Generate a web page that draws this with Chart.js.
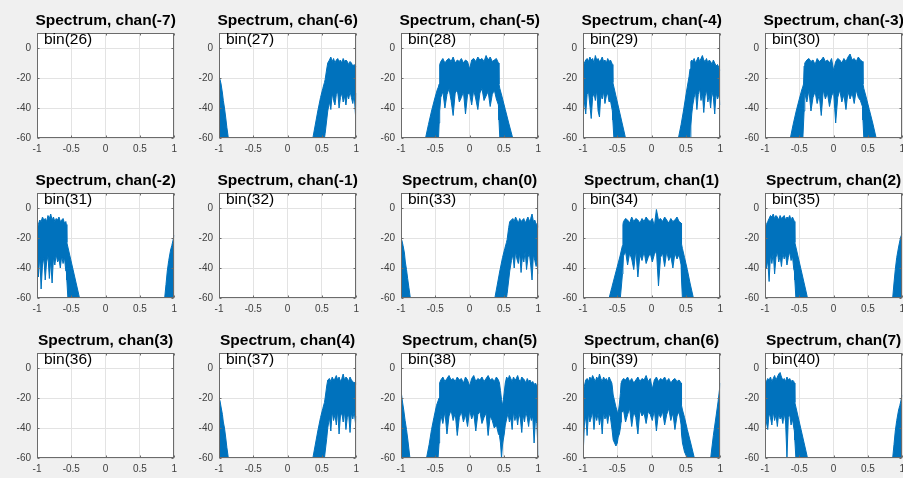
<!DOCTYPE html>
<html>
<head>
<meta charset="utf-8">
<script src="https://cdn.jsdelivr.net/npm/chart.js@4/dist/chart.umd.min.js"></script>
<style>
  html, body { margin: 0; padding: 0; background: #f0f0f0; overflow: hidden; width: 903px; height: 478px; }
  .cell { position: absolute; width: 182px; height: 160px; }
  .cell canvas { display: block; }
</style>
</head>
<body>
<div id="grid"></div>
<script>
// Channel / bin labels of the 3x5 grid of spectra
const channels = [-7, -6, -5, -4, -3, -2, -1, 0, 1, 2, 3, 4, 5, 6, 7];
const bins = [26, 27, 28, 29, 30, 31, 32, 33, 34, 35, 36, 37, 38, 39, 40];

// Axis ticks (normalised frequency, dB)
const xTicks = [-1, -0.5, 0, 0.5, 1];
const yTicks = [-60, -40, -20, 0];

// Each spectrum: frequency points, upper envelope (dB), lower envelope (dB).
// Values below -60 dB lie under the visible floor.

// Left edge skirt + right-hand band
const xEdgeRight = [-1, -0.985, -0.97, -0.95, -0.937, -0.92, -0.903, -0.885, -0.864, -0.85,
  0.35, 0.368, 0.40, 0.44, 0.48, 0.513, 0.537, 0.547, 0.57, 0.585,
  0.61, 0.63, 0.65, 0.67, 0.69, 0.71, 0.73, 0.75, 0.77, 0.79,
  0.81, 0.83, 0.85, 0.87, 0.89, 0.91, 0.93, 0.95, 0.97, 0.99, 1];

const hiChanM6 = [-19, -21, -24, -30, -35, -40, -46, -53, -60, -66,
  -75, -60, -52, -42, -33, -27, -23, -21, -14, -10,
  -8, -6, -9, -7, -10, -8, -7, -9, -8, -10,
  -7, -9, -8, -9, -11, -9, -10, -12, -11, -13, -12];
const loChanM6 = [-75, -75, -75, -75, -75, -75, -75, -75, -75, -75,
  -75, -75, -75, -75, -75, -75, -60, -57, -48, -42,
  -36, -41, -30, -35, -38, -31, -29, -40, -33, -30,
  -36, -32, -38, -31, -34, -29, -33, -37, -31, -45, -30];

const hiChan0 = [-20, -22, -25, -30, -36, -41, -47, -53, -60, -66,
  -75, -60, -52, -42, -33, -27, -23, -21, -13, -9,
  -8, -7, -9, -6, -8, -10, -7, -9, -8, -7,
  -10, -8, -6, -9, -7, -4, -9, -8, -11, -10, -13];
const loChan0 = [-75, -75, -75, -75, -75, -75, -75, -75, -75, -75,
  -75, -75, -75, -75, -75, -75, -60, -57, -48, -42,
  -35, -31, -40, -29, -34, -37, -30, -43, -32, -36,
  -29, -41, -33, -30, -38, -48, -31, -35, -39, -32, -44];

const hiChan4 = [-20, -22, -26, -31, -36, -40, -46, -53, -60, -66,
  -75, -60, -52, -42, -33, -27, -23, -20, -12, -8,
  -7, -9, -6, -8, -7, -5, -8, -6, -9, -7,
  -4, -8, -6, -7, -9, -6, -8, -9, -10, -9, -11];
const loChan4 = [-75, -75, -75, -75, -75, -75, -75, -75, -75, -75,
  -75, -75, -75, -75, -75, -75, -60, -56, -47, -40,
  -33, -42, -29, -35, -31, -38, -28, -44, -32, -30,
  -36, -29, -41, -33, -31, -43, -30, -34, -29, -37, -32];

// Left-hand band + right edge skirt
const xLeftBand = [-1, -0.98, -0.96, -0.94, -0.92, -0.90, -0.88, -0.86, -0.84, -0.82,
  -0.80, -0.78, -0.76, -0.74, -0.72, -0.70, -0.68, -0.66, -0.64, -0.62,
  -0.60, -0.58,
  -0.572, -0.565, -0.55, -0.52, -0.48, -0.44, -0.40, -0.381, -0.36,
  0.84, 0.861, 0.88, 0.899, 0.92, 0.947, 0.965, 0.98, 1];

const hiChanM2 = [-15, -11, -8, -9, -6, -8, -7, -9, -5, -7, -4, -8, -6, -9, -7, -8, -6, -9, -8, -7, -10, -9,
  -11, -23, -26, -32, -40, -48, -56, -60, -64,
  -75, -60, -51, -42, -35, -28, -25, -22, -18];
const loChanM2 = [-34, -46, -32, -54, -38, -33, -48, -36, -32, -47, -35, -50, -33, -38, -31, -36, -34, -40, -32, -37, -33, -42,
  -42, -48, -60, -75, -75, -75, -75, -75, -75,
  -75, -75, -75, -75, -75, -75, -75, -75, -75];

const hiChan2 = [-14, -11, -9, -7, -5, -6, -4, -7, -5, -6, -8, -5, -7, -6, -5, -8, -6, -7, -5, -8, -6, -8,
  -9, -23, -26, -32, -40, -48, -56, -60, -64,
  -75, -60, -50, -41, -33, -26, -22, -19, -17];
const loChan2 = [-33, -40, -35, -49, -31, -37, -30, -44, -33, -29, -36, -32, -39, -30, -34, -31, -38, -33, -29, -35, -32, -41,
  -42, -48, -60, -75, -75, -75, -75, -75, -75,
  -75, -75, -75, -75, -75, -75, -75, -75, -75];

const hiChan7 = [-8, -9, -7, -8, -6, -9, -7, -5, -8, -6, -4, -3, -6, -8, -7, -9, -6, -8, -7, -9, -8, -9,
  -10, -23, -26, -32, -40, -48, -56, -60, -64,
  -75, -60, -51, -42, -35, -28, -25, -22, -18];
const loChan7 = [-28, -36, -41, -30, -33, -38, -29, -35, -31, -39, -30, -34, -32, -37, -30, -36, -60, -33, -31, -38, -34, -40,
  -42, -48, -60, -75, -75, -75, -75, -75, -75,
  -75, -75, -75, -75, -75, -75, -75, -75, -75];

// Bands at both sides
const xChanM4 = [-1, -0.98, -0.96, -0.94, -0.92, -0.90, -0.88, -0.86, -0.84, -0.82,
  -0.80, -0.78, -0.76, -0.74, -0.72, -0.70, -0.68, -0.66, -0.64, -0.62,
  -0.60, -0.58,
  -0.572, -0.565, -0.55, -0.52, -0.48, -0.44, -0.40, -0.381, -0.36,
  0.37, 0.391, 0.43, 0.464, 0.512, 0.546, 0.56, 0.572, 0.585,
  0.60, 0.62, 0.64, 0.66, 0.68, 0.70, 0.72, 0.74, 0.76, 0.78,
  0.80, 0.82, 0.84, 0.86, 0.88, 0.90, 0.92, 0.94, 0.96, 0.98, 1];
const hiChanM4 = [-13, -10, -8, -7, -9, -6, -8, -7, -10, -5, -8, -7, -9, -8, -6, -9, -8, -10, -7, -9, -8, -10,
  -11, -23, -26, -32, -40, -48, -56, -60, -64,
  -75, -60, -51, -42, -28, -19, -14, -9, -8,
  -9, -7, -10, -8, -6, -9, -7, -5, -8, -9, -7, -10, -8, -9, -11, -8, -10, -12, -11, -13, -15];
const loChanM4 = [-30, -36, -44, -31, -29, -38, -47, -33, -30, -35, -28, -42, -46, -31, -34, -29, -37, -32, -30, -36, -35, -40,
  -42, -48, -60, -75, -75, -75, -75, -75, -75,
  -75, -75, -75, -75, -75, -75, -60, -52, -44,
  -38, -33, -29, -41, -31, -27, -35, -30, -43, -32, -28, -36, -31, -40, -29, -33, -44, -30, -34, -31, -38];

// Centred bands
const xChanM5 = [-0.66, -0.642, -0.6, -0.555, -0.51, -0.473, -0.455, -0.444, -0.436,
  -0.42, -0.39, -0.36, -0.33, -0.30, -0.27, -0.24, -0.21, -0.18, -0.15,
  -0.12, -0.09, -0.06, -0.03, 0, 0.03, 0.06, 0.09, 0.12, 0.15,
  0.18, 0.21, 0.24, 0.27, 0.30, 0.33, 0.36, 0.39, 0.42,
  0.428, 0.44, 0.47, 0.52, 0.57, 0.628, 0.65];
const hiChanM5 = [-65, -60, -51, -42, -34, -28, -26, -24, -11,
  -9, -7, -10, -8, -7, -9, -6, -10, -8, -9,
  -7, -10, -8, -9, -14, -8, -7, -9, -6, -8,
  -7, -9, -5, -8, -6, -9, -8, -7, -10,
  -24, -27, -32, -41, -50, -60, -64];
const loChanM5 = [-75, -75, -75, -75, -75, -75, -62, -50, -42,
  -33, -29, -40, -31, -27, -35, -45, -30, -28, -36,
  -33, -29, -44, -31, -30, -38, -28, -34, -41, -30,
  -27, -35, -32, -29, -39, -31, -28, -34, -38,
  -48, -60, -75, -75, -75, -75, -75];

const xChanM3 = [-0.65, -0.63, -0.59, -0.545, -0.50, -0.465, -0.45, -0.438, -0.43,
  -0.42, -0.39, -0.36, -0.33, -0.30, -0.27, -0.24, -0.21, -0.18, -0.15,
  -0.12, -0.09, -0.06, -0.03, 0, 0.03, 0.06, 0.09, 0.12, 0.15,
  0.18, 0.21, 0.24, 0.27, 0.30, 0.33, 0.36, 0.39, 0.42,
  0.428, 0.44, 0.47, 0.52, 0.57, 0.62, 0.64];
const hiChanM3 = [-64, -60, -51, -42, -34, -28, -26, -24, -12,
  -10, -8, -7, -9, -8, -11, -7, -9, -8, -6,
  -9, -8, -10, -7, -15, -9, -7, -8, -10, -7,
  -9, -6, -4, -8, -7, -9, -6, -8, -9,
  -24, -27, -32, -41, -50, -60, -64];
const loChanM3 = [-75, -75, -75, -75, -75, -75, -62, -50, -42,
  -30, -36, -28, -42, -33, -29, -37, -31, -45, -28,
  -34, -30, -39, -32, -29, -50, -33, -28, -36, -31,
  -41, -29, -34, -30, -37, -28, -33, -35, -39,
  -48, -60, -75, -75, -75, -75, -75];

const xChan1 = [-0.64, -0.619, -0.58, -0.54, -0.50, -0.46, -0.44, -0.425, -0.418,
  -0.41, -0.38, -0.35, -0.32, -0.29, -0.26, -0.23, -0.20, -0.17, -0.14,
  -0.11, -0.08, -0.05, -0.02, 0.01, 0.04, 0.07, 0.10, 0.13, 0.16,
  0.19, 0.22, 0.25, 0.28, 0.31, 0.34, 0.37, 0.40, 0.43,
  0.436, 0.449, 0.48, 0.52, 0.56, 0.609, 0.63];
const hiChan1 = [-64, -60, -53, -46, -39, -32, -28, -25, -11,
  -9, -7, -8, -10, -6, -9, -7, -8, -10, -7,
  -9, -6, -8, -9, -7, -12, -1, -8, -7, -9,
  -6, -8, -10, -7, -9, -8, -6, -9, -10,
  -24, -27, -33, -41, -50, -60, -64];
const loChan1 = [-75, -75, -75, -75, -75, -62, -52, -44, -40,
  -32, -29, -38, -30, -34, -41, -28, -46, -31, -35,
  -29, -37, -33, -30, -36, -31, -28, -52, -33, -30,
  -39, -29, -35, -32, -40, -30, -34, -31, -38,
  -48, -60, -75, -75, -75, -75, -75];

// Edge skirt, centred band, notch and right-hand band
const xChan5 = [-1, -0.98, -0.96, -0.94, -0.92, -0.90, -0.885, -0.87, -0.855,
  -0.65, -0.628, -0.59, -0.555, -0.52, -0.483, -0.46, -0.445, -0.437,
  -0.42, -0.39, -0.36, -0.33, -0.30, -0.27, -0.24, -0.21, -0.18, -0.15,
  -0.12, -0.09, -0.06, -0.03, 0, 0.03, 0.06, 0.09, 0.12, 0.15,
  0.18, 0.21, 0.24, 0.27, 0.30, 0.33, 0.36, 0.39, 0.42,
  0.435, 0.45, 0.465, 0.478, 0.49, 0.505, 0.52, 0.54,
  0.56, 0.58, 0.60, 0.62, 0.64, 0.66, 0.68, 0.70, 0.72, 0.74,
  0.76, 0.78, 0.80, 0.82, 0.84, 0.86, 0.88, 0.90, 0.92, 0.94,
  0.96, 0.98, 1];
const hiChan5 = [-15, -22, -28, -35, -41, -48, -54, -60, -66,
  -65, -60, -51, -41, -33, -25, -22, -20, -10,
  -8, -6, -9, -7, -5, -8, -7, -9, -6, -8,
  -7, -10, -6, -8, -12, -7, -5, -9, -7, -8,
  -6, -9, -7, -5, -8, -7, -9, -6, -8,
  -10, -15, -21, -25, -22, -16, -10, -6,
  -8, -5, -7, -9, -6, -8, -7, -5, -8, -9,
  -6, -7, -8, -10, -7, -9, -8, -10, -9, -11,
  -10, -12, -11];
const loChan5 = [-75, -75, -75, -75, -75, -75, -75, -75, -75,
  -75, -75, -75, -75, -75, -75, -60, -50, -40,
  -31, -37, -29, -44, -32, -28, -35, -30, -45, -33,
  -29, -36, -31, -39, -28, -34, -30, -42, -31, -29,
  -37, -33, -30, -45, -32, -35, -40, -38, -44,
  -45, -50, -60, -52, -48, -44, -38, -34,
  -30, -36, -33, -41, -29, -35, -31, -38, -30, -34,
  -43, -31, -36, -29, -33, -39, -31, -35, -32, -50,
  -34, -37, -58];

// Left band, notch, centred band, right edge skirt
const xChan6 = [-1, -0.98, -0.96, -0.94, -0.92, -0.90, -0.88, -0.86, -0.84, -0.82,
  -0.80, -0.78, -0.76, -0.74, -0.72, -0.70, -0.68, -0.66, -0.64, -0.62,
  -0.60, -0.58,
  -0.574, -0.56, -0.54, -0.52, -0.50, -0.487, -0.47, -0.455, -0.445,
  -0.44, -0.41, -0.38, -0.35, -0.32, -0.29, -0.26, -0.23, -0.20, -0.17,
  -0.14, -0.11, -0.08, -0.05, -0.02, 0.01, 0.04, 0.07, 0.10, 0.13,
  0.16, 0.19, 0.22, 0.25, 0.28, 0.31, 0.34, 0.37, 0.40, 0.43,
  0.436, 0.45, 0.48, 0.52, 0.57, 0.623, 0.64,
  0.84, 0.861, 0.9, 0.94, 0.97, 0.99, 1];
const hiChan6 = [-16, -12, -8, -7, -9, -6, -8, -5, -7, -9, -6, -8, -4, -7, -9, -6, -8, -7, -9, -6, -8, -10,
  -12, -18, -22, -26, -29, -30, -24, -17, -10,
  -9, -7, -8, -6, -9, -7, -10, -8, -6, -9,
  -7, -8, -5, -9, -7, -14, -8, -6, -9, -7,
  -8, -6, -9, -7, -10, -8, -7, -9, -8, -10,
  -25, -28, -33, -41, -50, -60, -63,
  -75, -60, -45, -32, -22, -14, -10];
const loChan6 = [-60, -38, -32, -45, -30, -36, -33, -29, -41, -31, -35, -30, -38, -32, -44, -29, -34, -31, -37, -30, -33, -40,
  -42, -48, -50, -52, -50, -46, -44, -40, -36,
  -30, -28, -36, -31, -27, -39, -29, -33, -44, -28,
  -32, -30, -37, -29, -31, -35, -28, -42, -30, -33,
  -29, -38, -31, -27, -35, -30, -41, -32, -29, -38,
  -44, -50, -56, -60, -75, -75, -75,
  -75, -75, -75, -75, -75, -75, -75];

const spectra = {
  '-7': null,
  '-6': [xEdgeRight, hiChanM6, loChanM6],
  '-5': [xChanM5, hiChanM5, loChanM5],
  '-4': [xChanM4, hiChanM4, loChanM4],
  '-3': [xChanM3, hiChanM3, loChanM3],
  '-2': [xLeftBand, hiChanM2, loChanM2],
  '-1': null,
  '0': [xEdgeRight, hiChan0, loChan0],
  '1': [xChan1, hiChan1, loChan1],
  '2': [xLeftBand, hiChan2, loChan2],
  '3': null,
  '4': [xEdgeRight, hiChan4, loChan4],
  '5': [xChan5, hiChan5, loChan5],
  '6': [xChan6, hiChan6, loChan6],
  '7': [xLeftBand, hiChan7, loChan7]
};

const BLUE = 'rgb(0,114,189)';
const FONT = '"Liberation Sans", Arial, Helvetica, sans-serif';
// Wanted plot box inside each 182x160 cell
const AREA = { left: 37, top: 33, right: 175.5, bottom: 138 };

function points(xs, ys) {
  const n = Math.min(xs.length, ys.length);
  const out = [];
  for (let i = 0; i < n; i++) out.push({ x: xs[i], y: ys[i] });
  return out;
}

// White axes area, box with inward ticks, title and bin label
const panelFrame = {
  id: 'panelFrame',
  beforeDraw(chart) {
    const a = chart.chartArea, ctx = chart.ctx;
    ctx.save();
    ctx.fillStyle = '#ffffff';
    ctx.fillRect(a.left, a.top, a.right - a.left, a.bottom - a.top);
    ctx.restore();
  },
  afterDatasetsDraw(chart) {
    const a = chart.chartArea, ctx = chart.ctx;
    const xs = chart.scales.x, ys = chart.scales.y;
    ctx.save();
    ctx.strokeStyle = '#6b6b6b';
    ctx.lineWidth = 1;
    const L = Math.round(a.left) + 0.5, R = Math.round(a.right) - 0.5;
    const T = Math.round(a.top) + 0.5, B = Math.round(a.bottom) - 0.5;
    ctx.strokeRect(L, T, R - L, B - T);
    ctx.beginPath();
    xTicks.forEach(v => {
      const px = Math.round(xs.getPixelForValue(v)) + 0.5;
      ctx.moveTo(px, B); ctx.lineTo(px, B - 2);
      ctx.moveTo(px, T); ctx.lineTo(px, T + 2);
    });
    yTicks.forEach(v => {
      const py = Math.round(ys.getPixelForValue(v)) + 0.5;
      ctx.moveTo(L, py); ctx.lineTo(L + 2, py);
      ctx.moveTo(R, py); ctx.lineTo(R - 2, py);
    });
    ctx.stroke();
    ctx.restore();
  },
  afterDraw(chart) {
    const a = chart.chartArea, ctx = chart.ctx;
    const o = chart.options.plugins.panelFrame;
    ctx.save();
    ctx.fillStyle = '#000000';
    ctx.textBaseline = 'alphabetic';
    ctx.font = 'bold 15.5px ' + FONT;
    ctx.textAlign = 'center';
    ctx.fillText(o.title, (a.left + a.right) / 2, 24.5);
    ctx.font = '15.5px ' + FONT;
    ctx.textAlign = 'left';
    ctx.fillText(o.label, a.left + 7, a.top + 10.5);
    ctx.restore();
  }
};

const grid = document.getElementById('grid');
channels.forEach((ch, i) => {
  const col = i % 5, row = Math.floor(i / 5);
  const cell = document.createElement('div');
  cell.className = 'cell';
  cell.style.left = (col * 182) + 'px';
  cell.style.top = (row * 160) + 'px';
  const cv = document.createElement('canvas');
  cv.width = 182; cv.height = 160;
  cv.style.width = '182px'; cv.style.height = '160px';
  cell.appendChild(cv);
  grid.appendChild(cell);

  const s = spectra[String(ch)];
  const datasets = s ? [
    { data: points(s[0], s[2]), borderColor: BLUE, borderWidth: 1, fill: false, pointRadius: 0 },
    { data: points(s[0], s[1]), borderColor: BLUE, borderWidth: 1, backgroundColor: BLUE, fill: '-1', pointRadius: 0 }
  ] : [];

  const pad = { top: AREA.top, right: 182 - AREA.right, bottom: 0, left: 0 };
  const chart = new Chart(cv, {
    type: 'line',
    data: { datasets },
    plugins: [panelFrame],
    options: {
      responsive: false,
      animation: false,
      devicePixelRatio: 1,
      layout: { padding: Object.assign({}, pad) },
      elements: { line: { tension: 0 }, point: { radius: 0 } },
      plugins: {
        legend: { display: false },
        tooltip: { enabled: false },
        panelFrame: { title: 'Spectrum, chan(' + ch + ')', label: 'bin(' + bins[i] + ')' }
      },
      scales: {
        x: {
          type: 'linear', min: -1, max: 1,
          afterBuildTicks: ax => { ax.ticks = xTicks.map(v => ({ value: v })); },
          afterFit: ax => { ax.height = 22; },
          ticks: { autoSkip: false, maxRotation: 0, padding: 5, color: '#404040',
                   font: { family: FONT, size: 10 }, callback: v => String(v) },
          grid: { color: '#e3e3e3', drawTicks: false },
          border: { display: false }
        },
        y: {
          type: 'linear', min: -60, max: 10,
          afterBuildTicks: ax => { ax.ticks = yTicks.map(v => ({ value: v })); },
          afterFit: ax => { ax.width = 37; },
          ticks: { padding: 6, color: '#404040',
                   font: { family: FONT, size: 10 }, callback: v => String(v) },
          grid: { color: '#e3e3e3', drawTicks: false },
          border: { display: false }
        }
      }
    }
  });

  // Nudge the layout padding so the plot box lands on the wanted edges
  const a = chart.chartArea;
  const dr = a.right - AREA.right, dt = AREA.top - a.top, db = a.bottom - AREA.bottom;
  if (Math.abs(dr) > 0.1 || Math.abs(dt) > 0.1 || Math.abs(db) > 0.1) {
    pad.right = Math.max(0, pad.right + dr);
    pad.top = Math.max(0, pad.top + dt);
    pad.bottom = Math.max(0, pad.bottom + db);
    chart.options.layout.padding = Object.assign({}, pad);
    chart.update('none');
  }
});
</script>
</body>
</html>
